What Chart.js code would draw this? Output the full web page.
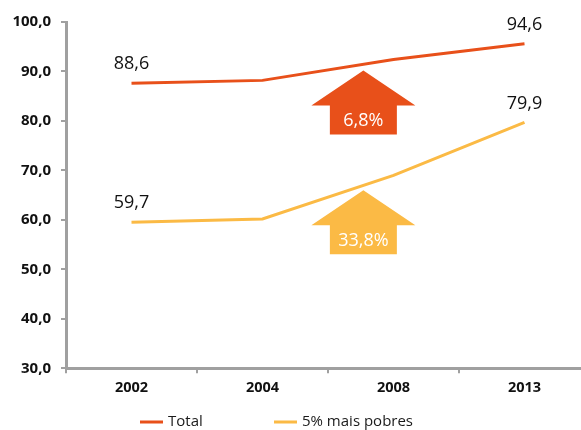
<!DOCTYPE html>
<html>
<head>
<meta charset="utf-8">
<script src="https://cdn.jsdelivr.net/npm/chart.js@4"></script>
<style>
  html, body { margin: 0; padding: 0; background: #ffffff; overflow: hidden; }
  #wrap { width: 600px; height: 430px; }
</style>
</head>
<body>
<div id="wrap"><canvas id="c" width="600" height="430"></canvas></div>
<script>
// ---- data ----
const years = ['2002', '2004', '2008', '2013'];
const totalValues = [87.6, 88.2, 92.4, 95.6];      // plotted line
const poorestValues = [59.5, 60.2, 69.0, 79.7];
const totalLabels = ['88,6', '', '', '94,6'];      // value labels printed on the chart
const poorestLabels = ['59,7', '', '', '79,9'];
const growthLabels = ['6,8%', '33,8%'];
const seriesNames = ['Total', '5% mais pobres'];
const yTicks = [30, 40, 50, 60, 70, 80, 90, 100];

const ORANGE = '#E8501A';
const YELLOW = '#FBBA45';
const AXIS = '#a0a0a0';
const FONT = "'Open Sans', 'Noto Sans', sans-serif";

const overlay = {
  id: 'overlay',
  afterDatasetsDraw(chart) {
    const ctx = chart.ctx;
    const x = chart.scales.x, y = chart.scales.y;
    // value labels
    const labelSets = [totalLabels, poorestLabels];
    ctx.save();
    ctx.font = '18px ' + FONT;
    ctx.fillStyle = '#111';
    ctx.textAlign = 'center';
    ctx.textBaseline = 'middle';
    labelSets.forEach((labs, di) => {
      const meta = chart.getDatasetMeta(di);
      labs.forEach((t, i) => {
        if (!t) return;
        const p = meta.data[i];
        ctx.fillText(t, p.x, p.y - 19);
      });
    });
    // growth arrows
    const arrows = [
      { tipVal: 90.2, color: ORANGE, text: growthLabels[0] },
      { tipVal: 66.0, color: YELLOW, text: growthLabels[1] }
    ];
    const cx = x.getPixelForValue(1.77);
    arrows.forEach(a => {
      const ty = y.getPixelForValue(a.tipVal);
      const head = 35, total = 64, wing = 52, shaft = 33.5;
      ctx.beginPath();
      ctx.moveTo(cx, ty);
      ctx.lineTo(cx + wing, ty + head);
      ctx.lineTo(cx + shaft, ty + head);
      ctx.lineTo(cx + shaft, ty + total);
      ctx.lineTo(cx - shaft, ty + total);
      ctx.lineTo(cx - shaft, ty + head);
      ctx.lineTo(cx - wing, ty + head);
      ctx.closePath();
      ctx.fillStyle = a.color;
      ctx.fill();
      ctx.fillStyle = '#ffffff';
      ctx.font = '18px ' + FONT;
      ctx.fillText(a.text, cx, ty + (head + total) / 2 + 1);
    });
    // legend
    const colors = [ORANGE, YELLOW];
    const lx = [140, 274];
    const ly = 422;
    ctx.font = '15px ' + FONT;
    ctx.textAlign = 'left';
    seriesNames.forEach((n, i) => {
      ctx.fillStyle = colors[i];
      ctx.fillRect(lx[i], ly - 1.5, 23, 3);
      ctx.fillStyle = '#1a1a1a';
      ctx.fillText(n, lx[i] + 28, ly);
    });
    ctx.restore();
  }
};

new Chart(document.getElementById('c'), {
  type: 'line',
  data: {
    labels: years,
    datasets: [
      { label: seriesNames[0], data: totalValues, borderColor: ORANGE, borderWidth: 3, pointRadius: 0, tension: 0, fill: false },
      { label: seriesNames[1], data: poorestValues, borderColor: YELLOW, borderWidth: 3, pointRadius: 0, tension: 0, fill: false }
    ]
  },
  options: {
    responsive: false,
    animation: false,
    devicePixelRatio: 1,
    layout: { padding: { top: 22, right: 10, bottom: 0, left: 0 } },
    plugins: { legend: { display: false }, tooltip: { enabled: false } },
    scales: {
      x: {
        offset: true,
        grid: { offset: true, drawOnChartArea: false, drawTicks: true, tickLength: 5, color: AXIS, lineWidth: 2 },
        border: { color: AXIS, width: 3 },
        ticks: { color: '#111', font: { family: FONT, size: 14.5, weight: 'bold' }, padding: 6 },
        afterFit(s) { s.height = 61.7; }
      },
      y: {
        min: 30, max: 100,
        afterBuildTicks(s) { s.ticks = yTicks.map(v => ({ value: v })); },
        grid: { drawOnChartArea: false, drawTicks: true, tickLength: 5, color: AXIS, lineWidth: 2 },
        border: { color: AXIS, width: 3 },
        ticks: {
          color: '#111', font: { family: FONT, size: 15, weight: 'bold' }, padding: 10,
          callback: v => v.toFixed(1).replace('.', ',')
        },
        afterFit(s) { s.width = 66; }
      }
    }
  },
  plugins: [overlay]
});
</script>
</body>
</html>
